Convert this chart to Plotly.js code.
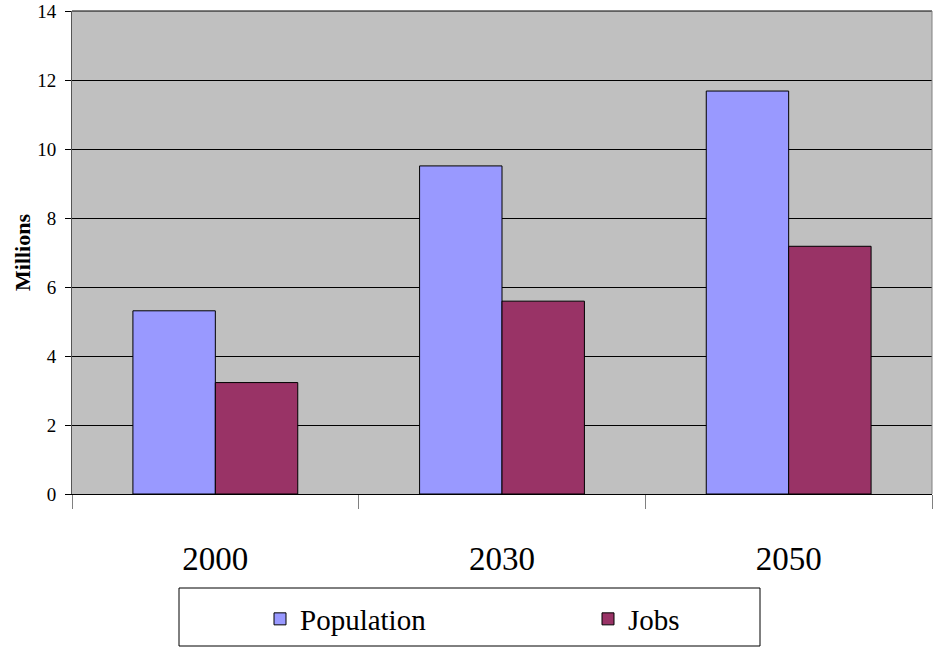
<!DOCTYPE html>
<html>
<head>
<meta charset="utf-8">
<script src="https://cdn.plot.ly/plotly-3.0.1.min.js"></script>
<style>html,body{margin:0;padding:0;background:#fff;}#chart{width:942px;height:649px;}</style>
</head>
<body>
<div id="chart"></div>
<script>
var years = ["2000", "2030", "2050"];
var population = [5.31, 9.51, 11.68];
var jobs = [3.23, 5.59, 7.18];
var yTicks = [0, 2, 4, 6, 8, 10, 12, 14];
var seriesNames = ["Population", "Jobs"];

var serif = "Liberation Serif, Times New Roman, serif";

var traces = [
  {type: "bar", name: seriesNames[0], x: years, y: population, legend: "legend",
   marker: {color: "#9999FF", line: {color: "#000000", width: 1}}},
  {type: "bar", name: seriesNames[1], x: years, y: jobs, legend: "legend2",
   marker: {color: "#993366", line: {color: "#000000", width: 1}}}
];

var legendCommon = {
  orientation: "h",
  xanchor: "left",
  y: (494 - 619) / 483, yanchor: "middle",
  bgcolor: "rgba(0,0,0,0)",
  borderwidth: 0,
  font: {family: serif, size: 29, color: "#000000"}
};

var layout = {
  width: 942, height: 649,
  margin: {l: 72, r: 10, t: 11, b: 155, autoexpand: false},
  paper_bgcolor: "#ffffff",
  plot_bgcolor: "#c0c0c0",
  barmode: "group",
  bargap: 0.425,
  bargroupgap: 0,
  showlegend: true,
  font: {family: serif, color: "#000000"},
  xaxis: {
    type: "category",
    tickson: "boundaries",
    ticks: "outside", ticklen: 14, tickcolor: "#808080", tickwidth: 1,
    showline: true, linecolor: "#000000", linewidth: 1,
    showgrid: false,
    tickfont: {family: serif, size: 33, color: "#000000"},
    ticklabelstandoff: 35,
    fixedrange: true
  },
  yaxis: {
    range: [0, 14],
    tickvals: yTicks,
    ticktext: yTicks.map(String),
    ticks: "outside", ticklen: 6, tickcolor: "#000000",
    showline: true, linecolor: "#555555", linewidth: 1,
    showgrid: true, gridcolor: "#000000", gridwidth: 1,
    zeroline: true, zerolinecolor: "#000000",
    tickfont: {family: serif, size: 19, color: "#000000"},
    ticklabelstandoff: 5,
    ticklabeloverflow: "allow",
    title: {text: "<b>Millions</b>", font: {family: serif, size: 22, color: "#000000"}, standoff: 0},
    fixedrange: true
  },
  legend: Object.assign({}, legendCommon, {x: (260 - 72) / 860}),
  legend2: Object.assign({}, legendCommon, {x: (588 - 72) / 860}),
  shapes: [
    {type: "line", xref: "paper", yref: "paper", x0: 0, x1: 1, y0: 1, y1: 1,
     line: {color: "#000000", width: 1}, layer: "above"},
    {type: "line", xref: "paper", yref: "paper", x0: 1, x1: 1, y0: 0, y1: 1,
     line: {color: "#808080", width: 1}, layer: "above"},
    {type: "rect", xref: "paper", yref: "paper",
     x0: (179 - 72) / 860, x1: (760 - 72) / 860,
     y0: (494 - 646) / 483, y1: (494 - 588) / 483,
     line: {color: "#000000", width: 1}, fillcolor: "#ffffff", layer: "below"}
  ]
};

Plotly.newPlot("chart", traces, layout, {displayModeBar: false, staticPlot: true});
</script>
</body>
</html>
